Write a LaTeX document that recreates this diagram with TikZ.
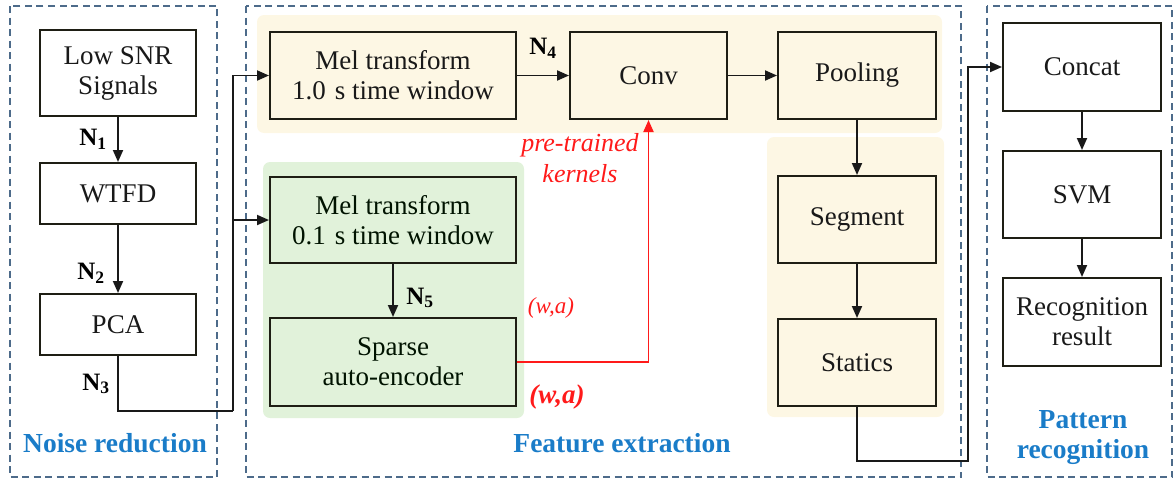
\documentclass[tikz,border=0pt]{standalone}
\usepackage{fontspec}
\setmainfont{Liberation Serif}
\usetikzlibrary{arrows.meta}
\definecolor{panelline}{HTML}{4D6B8A}
\definecolor{paneltext}{HTML}{1A7CC8}
\definecolor{yellowbg}{HTML}{FDF7E4}
\definecolor{greenbg}{HTML}{E1F2DA}
\definecolor{boxline}{HTML}{1E1E14}
\definecolor{kernelred}{HTML}{FF1A1A}
\tikzset{
  x=1pt, y=-1pt,
  panel/.style={draw=panelline, line width=1.8pt, dash pattern=on 7pt off 4.5pt},
  bg/.style={rounded corners=7pt, draw=none},
  stage/.style={draw=boxline, line width=2pt, align=center, inner sep=0pt,
    font=\fontsize{27}{30}\selectfont, text=black!90},
  wire/.style={line width=1.9pt, draw=black!90},
  flow/.style={wire, -{Triangle[length=12pt,width=10pt]}},
  redflow/.style={line width=1.9pt, draw=kernelred, -{Triangle[length=12pt,width=10pt]}},
  nlabel/.style={font=\fontsize{25}{27}\selectfont\bfseries, inner sep=0pt},
  paneltitle/.style={font=\fontsize{27.5}{30}\selectfont\bfseries, text=paneltext, align=center, inner sep=0pt},
}
\begin{document}
\begin{tikzpicture}
\useasboundingbox (0,0) rectangle (1175,479);

% shaded groups
\fill[bg, yellowbg] (257,15) rectangle (942,133);
\fill[bg, yellowbg] (767,137) rectangle (944,417);
\fill[bg, greenbg] (263,162) rectangle (524,418);

% dashed panels
\draw[panel] (10,6) rectangle (217,477);
\draw[panel] (246,6) rectangle (961,477);
\draw[panel] (987,6) rectangle (1172,477);

% noise reduction stages
\node[stage, minimum width=156pt, minimum height=86pt] (low) at (118,73) {Low SNR\\Signals};
\node[stage, minimum width=156pt, minimum height=61pt] (wtfd) at (118,193.5) {WTFD};
\node[stage, minimum width=156pt, minimum height=61pt] (pca) at (118,324.5) {PCA};

% feature extraction stages
\node[stage, fill=yellowbg, minimum width=246pt, minimum height=87pt] (mel1) at (393,75.5) {Mel transform\\1.0\,\,s time window};
\node[stage, fill=yellowbg, minimum width=157pt, minimum height=87pt] (conv) at (648.5,75.5) {Conv};
\node[stage, fill=yellowbg, minimum width=158pt, minimum height=87pt] (pool) at (857,75.5) {Pooling};
\node[stage, fill=yellowbg, minimum width=158pt, minimum height=87pt] (seg) at (857,219.5) {Segment};
\node[stage, fill=yellowbg, minimum width=158pt, minimum height=87pt] (stat) at (857,362.5) {Statics};
\node[stage, fill=greenbg, text=black!75!green!30!black, minimum width=246pt, minimum height=86pt] (mel01) at (393,220) {Mel transform\\0.1\,\,s time window};
\node[stage, fill=greenbg, text=black!75!green!30!black, minimum width=246pt, minimum height=88pt] (sae) at (393,362) {Sparse\\auto-encoder};

% pattern recognition stages
\node[stage, minimum width=158pt, minimum height=88pt] (concat) at (1082,67) {Concat};
\node[stage, minimum width=158pt, minimum height=87pt] (svm) at (1082,194.5) {SVM};
\node[stage, minimum width=158pt, minimum height=88pt] (rec) at (1082,322) {Recognition\\result};

% junction points of the routed wires
\coordinate (j1) at (233,411);
\coordinate (j2) at (968,461);

% connectors
\draw[flow] (low) -- (wtfd);
\draw[flow] (wtfd) -- (pca);
\draw[wire] (pca.south) -- (pca.south |- j1) -- (j1);
\draw[flow] (j1) -- (j1 |- mel1.west) -- (mel1.west);
\draw[flow] (j1 |- mel01.west) -- (mel01.west);
\draw[flow] (mel1) -- (conv);
\draw[flow] (conv) -- (pool);
\draw[flow] (pool) -- (seg);
\draw[flow] (seg) -- (stat);
\draw[flow] (mel01) -- (sae);
\draw[flow] (stat.south) -- (stat.south |- j2) -- (j2) -- (j2 |- concat.west) -- (concat.west);
\draw[flow] (concat) -- (svm);
\draw[flow] (svm) -- (rec);
\draw[redflow] (sae.east) -- (conv.south |- sae.east) -- (conv.south);

% connector labels
\node[nlabel] (n1) at (93,139) {N$_{\mathbf{1}}$};
\node[nlabel] (n2) at (91,273) {N$_{\mathbf{2}}$};
\node[nlabel] (n3) at (96,384) {N$_{\mathbf{3}}$};
\node[nlabel] (n4) at (543,48) {N$_{\mathbf{4}}$};
\node[nlabel] (n5) at (420,298) {N$_{\mathbf{5}}$};

% kernel annotations
\node[text=kernelred, font=\fontsize{26}{31}\selectfont\itshape, align=center, inner sep=0pt] (kern) at (580,158) {pre-trained\\kernels};
\node[text=kernelred, font=\fontsize{23}{26}\selectfont\itshape, inner sep=0pt] (wa1) at (551,308) {(w,a)};
\node[text=kernelred, font=\fontsize{27}{30}\selectfont\bfseries\itshape, inner sep=0pt] (wa2) at (557,397) {(w,a)};

% panel titles
\node[paneltitle] (t1) at (115,443) {Noise reduction};
\node[paneltitle] (t2) at (622,443) {Feature extraction};
\node[paneltitle] (t3) at (1083,438) {Pattern\\recognition};
\end{tikzpicture}
\end{document}
